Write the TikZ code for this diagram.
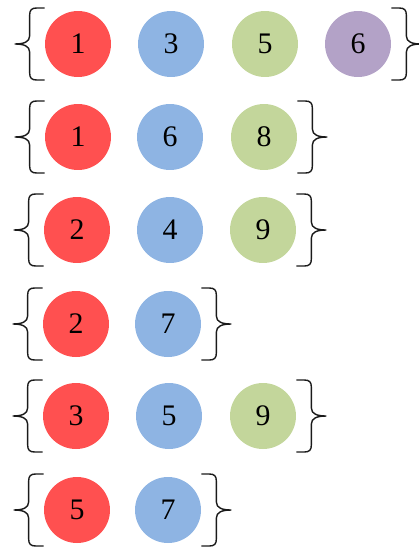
\documentclass[tikz,border=0pt]{standalone}
\usepackage{fontspec}
\setmainfont{Liberation Serif}
\definecolor{BallRed}{HTML}{FF5050}
\definecolor{BallBlue}{HTML}{8EB4E3}
\definecolor{BallGreen}{HTML}{C3D69B}
\definecolor{BallPurple}{HTML}{B3A2C7}
\definecolor{BraceInk}{HTML}{1A1A1A}
\newcommand{\BallFont}{\fontsize{17pt}{20pt}\selectfont}
\tikzset{
  ball/.style={circle, minimum size=1.32cm, inner sep=0pt, font=\BallFont},
  % left brace, drawn from its lower end to its upper end
  lbrace/.style={BraceInk, line width=0.8pt, to path={
    -- ++(-8,0) .. controls +(-5,0) and +(0,5) .. ++(-7,-7)
    -- ++(0,-21) .. controls +(0,-6) and +(9,0) .. ++(-15,-8)
    .. controls +(9,0) and +(0,6) .. ++(15,-8)
    -- ++(0,-21) .. controls +(0,-5) and +(-5,0) .. ++(7,-7)
    -- (\tikztotarget)}},
  % right brace, drawn from its upper end to its lower end
  rbrace/.style={BraceInk, line width=0.8pt, to path={
    -- ++(8,0) .. controls +(5,0) and +(0,-5) .. ++(7,7)
    -- ++(0,21) .. controls +(0,6) and +(-9,0) .. ++(15,8)
    .. controls +(-9,0) and +(0,-6) .. ++(-15,8)
    -- ++(0,21) .. controls +(0,5) and +(5,0) .. ++(-7,7)
    -- (\tikztotarget)}},
}

\begin{document}
\begin{tikzpicture}[x=0.02cm, y=-0.02cm]
  \useasboundingbox (0,0) rectangle (419,552);
  % row 1
  \node[ball, fill=BallRed] (r1a) at (78,44) {1};
  \node[ball, fill=BallBlue] (r1b) at (171,44) {3};
  \node[ball, fill=BallGreen] (r1c) at (265,44) {5};
  \node[ball, fill=BallPurple] (r1d) at (358,44) {6};
  \draw[lbrace] ([yshift=-0.72cm]r1a.west) to ([yshift=0.72cm]r1a.west);
  \draw[rbrace] ([yshift=0.72cm]r1d.east) to ([yshift=-0.72cm]r1d.east);
  % row 2
  \node[ball, fill=BallRed] (r2a) at (78,137) {1};
  \node[ball, fill=BallBlue] (r2b) at (170,137) {6};
  \node[ball, fill=BallGreen] (r2c) at (264,137) {8};
  \draw[lbrace] ([yshift=-0.72cm]r2a.west) to ([yshift=0.72cm]r2a.west);
  \draw[rbrace] ([yshift=0.72cm]r2c.east) to ([yshift=-0.72cm]r2c.east);
  % row 3
  \node[ball, fill=BallRed] (r3a) at (77,230) {2};
  \node[ball, fill=BallBlue] (r3b) at (170,230) {4};
  \node[ball, fill=BallGreen] (r3c) at (263,230) {9};
  \draw[lbrace] ([yshift=-0.72cm]r3a.west) to ([yshift=0.72cm]r3a.west);
  \draw[rbrace] ([yshift=0.72cm]r3c.east) to ([yshift=-0.72cm]r3c.east);
  % row 4
  \node[ball, fill=BallRed] (r4a) at (76,324) {2};
  \node[ball, fill=BallBlue] (r4b) at (168,324) {7};
  \draw[lbrace] ([yshift=-0.72cm]r4a.west) to ([yshift=0.72cm]r4a.west);
  \draw[rbrace] ([yshift=0.72cm]r4b.east) to ([yshift=-0.72cm]r4b.east);
  % row 5
  \node[ball, fill=BallRed] (r5a) at (76,416) {3};
  \node[ball, fill=BallBlue] (r5b) at (169,416) {5};
  \node[ball, fill=BallGreen] (r5c) at (263,416) {9};
  \draw[lbrace] ([yshift=-0.72cm]r5a.west) to ([yshift=0.72cm]r5a.west);
  \draw[rbrace] ([yshift=0.72cm]r5c.east) to ([yshift=-0.72cm]r5c.east);
  % row 6
  \node[ball, fill=BallRed] (r6a) at (77,510) {5};
  \node[ball, fill=BallBlue] (r6b) at (168,510) {7};
  \draw[lbrace] ([yshift=-0.72cm]r6a.west) to ([yshift=0.72cm]r6a.west);
  \draw[rbrace] ([yshift=0.72cm]r6b.east) to ([yshift=-0.72cm]r6b.east);
\end{tikzpicture}
\end{document}
